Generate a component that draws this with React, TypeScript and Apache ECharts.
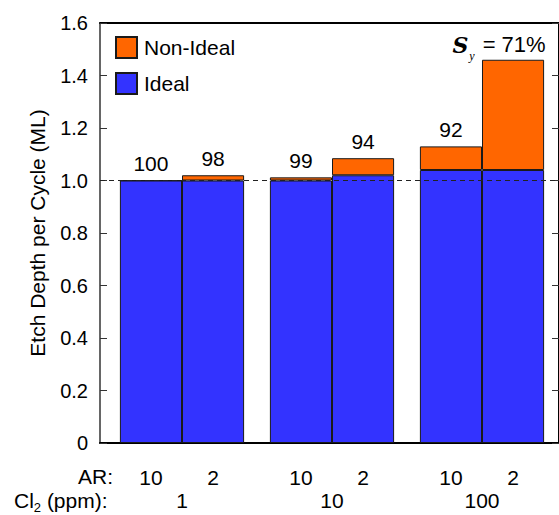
import React, { useEffect, useRef } from "react";
import * as echarts from "echarts";

// Etch depth per cycle split into ideal / non-ideal parts, per aspect ratio and Cl2 dose
const arLabels = ["10", "2", "10", "2", "10", "2"];
const cl2Groups = ["1", "10", "100"];
const idealDepth = [1.0, 1.0, 1.0, 1.02, 1.04, 1.04];
const nonIdealDepth = [0.0, 0.02, 0.012, 0.065, 0.09, 0.42];

const FONT = "'Liberation Sans', Arial, Helvetica, sans-serif";
const BAR_FRAC = 0.414; // bar width as a fraction of one Cl2 group band

const selectivity = idealDepth.map((v, i) =>
  Math.round((v / (v + nonIdealDepth[i])) * 100)
);
// AR tick-label positions, in group-band units on the bar grid
const arPos = arLabels.map(
  (_, i) => Math.floor(i / 2) + 0.5 + (i % 2 === 0 ? -0.5 : 0.5) * BAR_FRAC
);
const pick = (arr: number[], parity: number) => arr.filter((_, i) => i % 2 === parity);
const lookup = (positions: number[], labels: string[], v: number) => {
  const idx = positions.findIndex((p) => Math.abs(p - v) < 1e-6);
  return idx >= 0 ? labels[idx] : "";
};

export default function App() {
  const ref = useRef<HTMLDivElement>(null);

  useEffect(() => {
    if (!ref.current) return;
    const chart = echarts.init(ref.current, undefined, { renderer: "svg" });
    const lastGroup = cl2Groups.length - 1;

    const barStyle = (color: string) => ({
      color,
      borderColor: "#1a1a1a",
      borderWidth: 1,
    });

    const valueLabel = (parity: number) => ({
      show: true,
      position: "top",
      distance: 6,
      fontSize: 21,
      color: "#000",
      fontFamily: FONT,
      formatter: (p: any) => {
        const s = selectivity[p.dataIndex * 2 + parity];
        return parity === 1 && p.dataIndex === lastGroup
          ? `{s|S}{sub|y}{t|= ${s}%}`
          : `${s}`;
      },
      rich: {
        s: {
          fontSize: 22,
          fontFamily: "'DejaVu Serif', 'Liberation Serif', serif",
          fontStyle: "italic",
          fontWeight: "bold",
          color: "#000",
          lineHeight: 24,
        },
        sub: {
          fontSize: 12,
          fontFamily: "'Liberation Serif', serif",
          fontStyle: "italic",
          color: "#000",
          lineHeight: 13,
          verticalAlign: "top",
          padding: [17, 8, 0, 1],
        },
        t: { fontSize: 22, color: "#000", fontFamily: FONT, lineHeight: 24 },
      },
    });

    const barSeries = (
      name: string,
      stack: string,
      data: number[],
      color: string,
      label?: any,
      lastLabel?: any
    ) => ({
      name,
      type: "bar",
      stack,
      xAxisIndex: 2,
      yAxisIndex: 2,
      barGap: "0%",
      barCategoryGap: `${(1 - 2 * BAR_FRAC) * 100}%`,
      itemStyle: barStyle(color),
      label,
      data: data.map((v, i) =>
        lastLabel && i === data.length - 1 ? { value: v, label: lastLabel } : v
      ),
    });

    const hiddenValue = { show: false };

    chart.setOption({
      animation: false,
      textStyle: { fontFamily: FONT },
      grid: [
        // frame with the axes
        { left: 100, top: 23, width: 460, height: 420 },
        // bar area, inset so the groups sit where they belong
        { left: 107, top: 23, width: 450, height: 420 },
      ],
      legend: {
        data: ["Non-Ideal", "Ideal"],
        orient: "vertical",
        left: 115,
        top: 36,
        padding: 0,
        itemWidth: 21,
        itemHeight: 21,
        itemGap: 13,
        icon: "rect",
        textStyle: { fontSize: 21, color: "#000", fontFamily: FONT, padding: [0, 0, 0, 2] },
      },
      xAxis: [
        {
          gridIndex: 0,
          type: "value",
          min: 0,
          max: 1,
          position: "bottom",
          axisLine: { show: true, onZero: false, lineStyle: { color: "#000", width: 2 } },
          axisTick: { show: false },
          axisLabel: { show: false },
          splitLine: { show: false },
        },
        {
          gridIndex: 0,
          type: "value",
          min: 0,
          max: 1,
          position: "top",
          axisLine: { show: true, onZero: false, lineStyle: { color: "#000", width: 2 } },
          axisTick: { show: false },
          axisLabel: { show: false },
          splitLine: { show: false },
        },
        {
          gridIndex: 1,
          type: "category",
          data: cl2Groups,
          position: "bottom",
          axisLine: { show: false },
          axisTick: { show: false },
          splitLine: { show: false },
          axisLabel: {
            margin: 47,
            fontSize: 21,
            color: "#000",
            fontFamily: FONT,
          },
        },
        {
          gridIndex: 1,
          type: "value",
          min: 0,
          max: cl2Groups.length,
          position: "bottom",
          axisLine: { show: false },
          axisTick: { show: false },
          splitLine: { show: false },
          axisLabel: {
            customValues: arPos,
            formatter: (v: number) => lookup(arPos, arLabels, v),
            margin: 24,
            fontSize: 21,
            color: "#000",
            fontFamily: FONT,
          },
        },
      ],
      yAxis: [
        {
          gridIndex: 0,
          type: "value",
          min: 0,
          max: 1.6,
          interval: 0.2,
          position: "left",
          name: "Etch Depth per Cycle (ML)",
          nameLocation: "middle",
          nameGap: 52,
          nameTextStyle: { fontSize: 21, color: "#000", fontFamily: FONT },
          axisLine: { show: true, onZero: false, lineStyle: { color: "#333", width: 1.5 } },
          axisTick: { show: true, inside: true, length: 7, lineStyle: { color: "#333", width: 1 } },
          axisLabel: {
            margin: 12,
            fontSize: 20,
            color: "#000",
            fontFamily: FONT,
            formatter: (v: number) => (v === 0 ? "0" : v.toFixed(1)),
          },
          splitLine: { show: false },
        },
        {
          gridIndex: 0,
          type: "value",
          min: 0,
          max: 1.6,
          interval: 0.2,
          position: "right",
          axisLine: { show: true, onZero: false, lineStyle: { color: "#000", width: 2 } },
          axisTick: { show: true, inside: true, length: 7, lineStyle: { color: "#333", width: 1 } },
          axisLabel: { show: false },
          splitLine: { show: false },
        },
        {
          gridIndex: 1,
          type: "value",
          min: 0,
          max: 1.6,
          axisLine: hiddenValue,
          axisTick: hiddenValue,
          axisLabel: hiddenValue,
          splitLine: hiddenValue,
        },
      ],
      series: [
        barSeries("Ideal", "ar10", pick(idealDepth, 0), "#3333ff"),
        barSeries("Non-Ideal", "ar10", pick(nonIdealDepth, 0), "#ff6600", valueLabel(0)),
        barSeries("Ideal", "ar2", pick(idealDepth, 1), "#3333ff"),
        barSeries(
          "Non-Ideal",
          "ar2",
          pick(nonIdealDepth, 1),
          "#ff6600",
          valueLabel(1),
          { distance: 3, offset: [-14, 0] }
        ),
        {
          // reference level at one monolayer per cycle
          type: "line",
          xAxisIndex: 0,
          yAxisIndex: 0,
          data: [],
          z: 10,
          markLine: {
            silent: true,
            symbol: "none",
            label: { show: false },
            lineStyle: { color: "#222", width: 1.2, type: [5, 4] },
            data: [{ yAxis: 1.0 }],
          },
        },
      ],
      graphic: [
        {
          type: "text",
          right: 559 - 113,
          top: 466,
          style: { text: "AR:", font: `21px ${FONT}`, fill: "#000", textAlign: "right" },
        },
        {
          type: "text",
          left: 14,
          top: 489,
          style: {
            text: "{a|Cl}{b|2}{a| (ppm):}",
            fill: "#000",
            rich: {
              a: { fontSize: 21, fontFamily: FONT, lineHeight: 22, fill: "#000" },
              b: {
                fontSize: 13,
                fontFamily: FONT,
                lineHeight: 13,
                verticalAlign: "top",
                padding: [12, 0, 0, 0],
                fill: "#000",
              },
            },
          },
        },
      ],
    });

    return () => chart.dispose();
  }, []);

  return (
    <div
      ref={ref}
      style={{ position: "absolute", left: 0, top: 0, width: 559, height: 515 }}
    />
  );
}
